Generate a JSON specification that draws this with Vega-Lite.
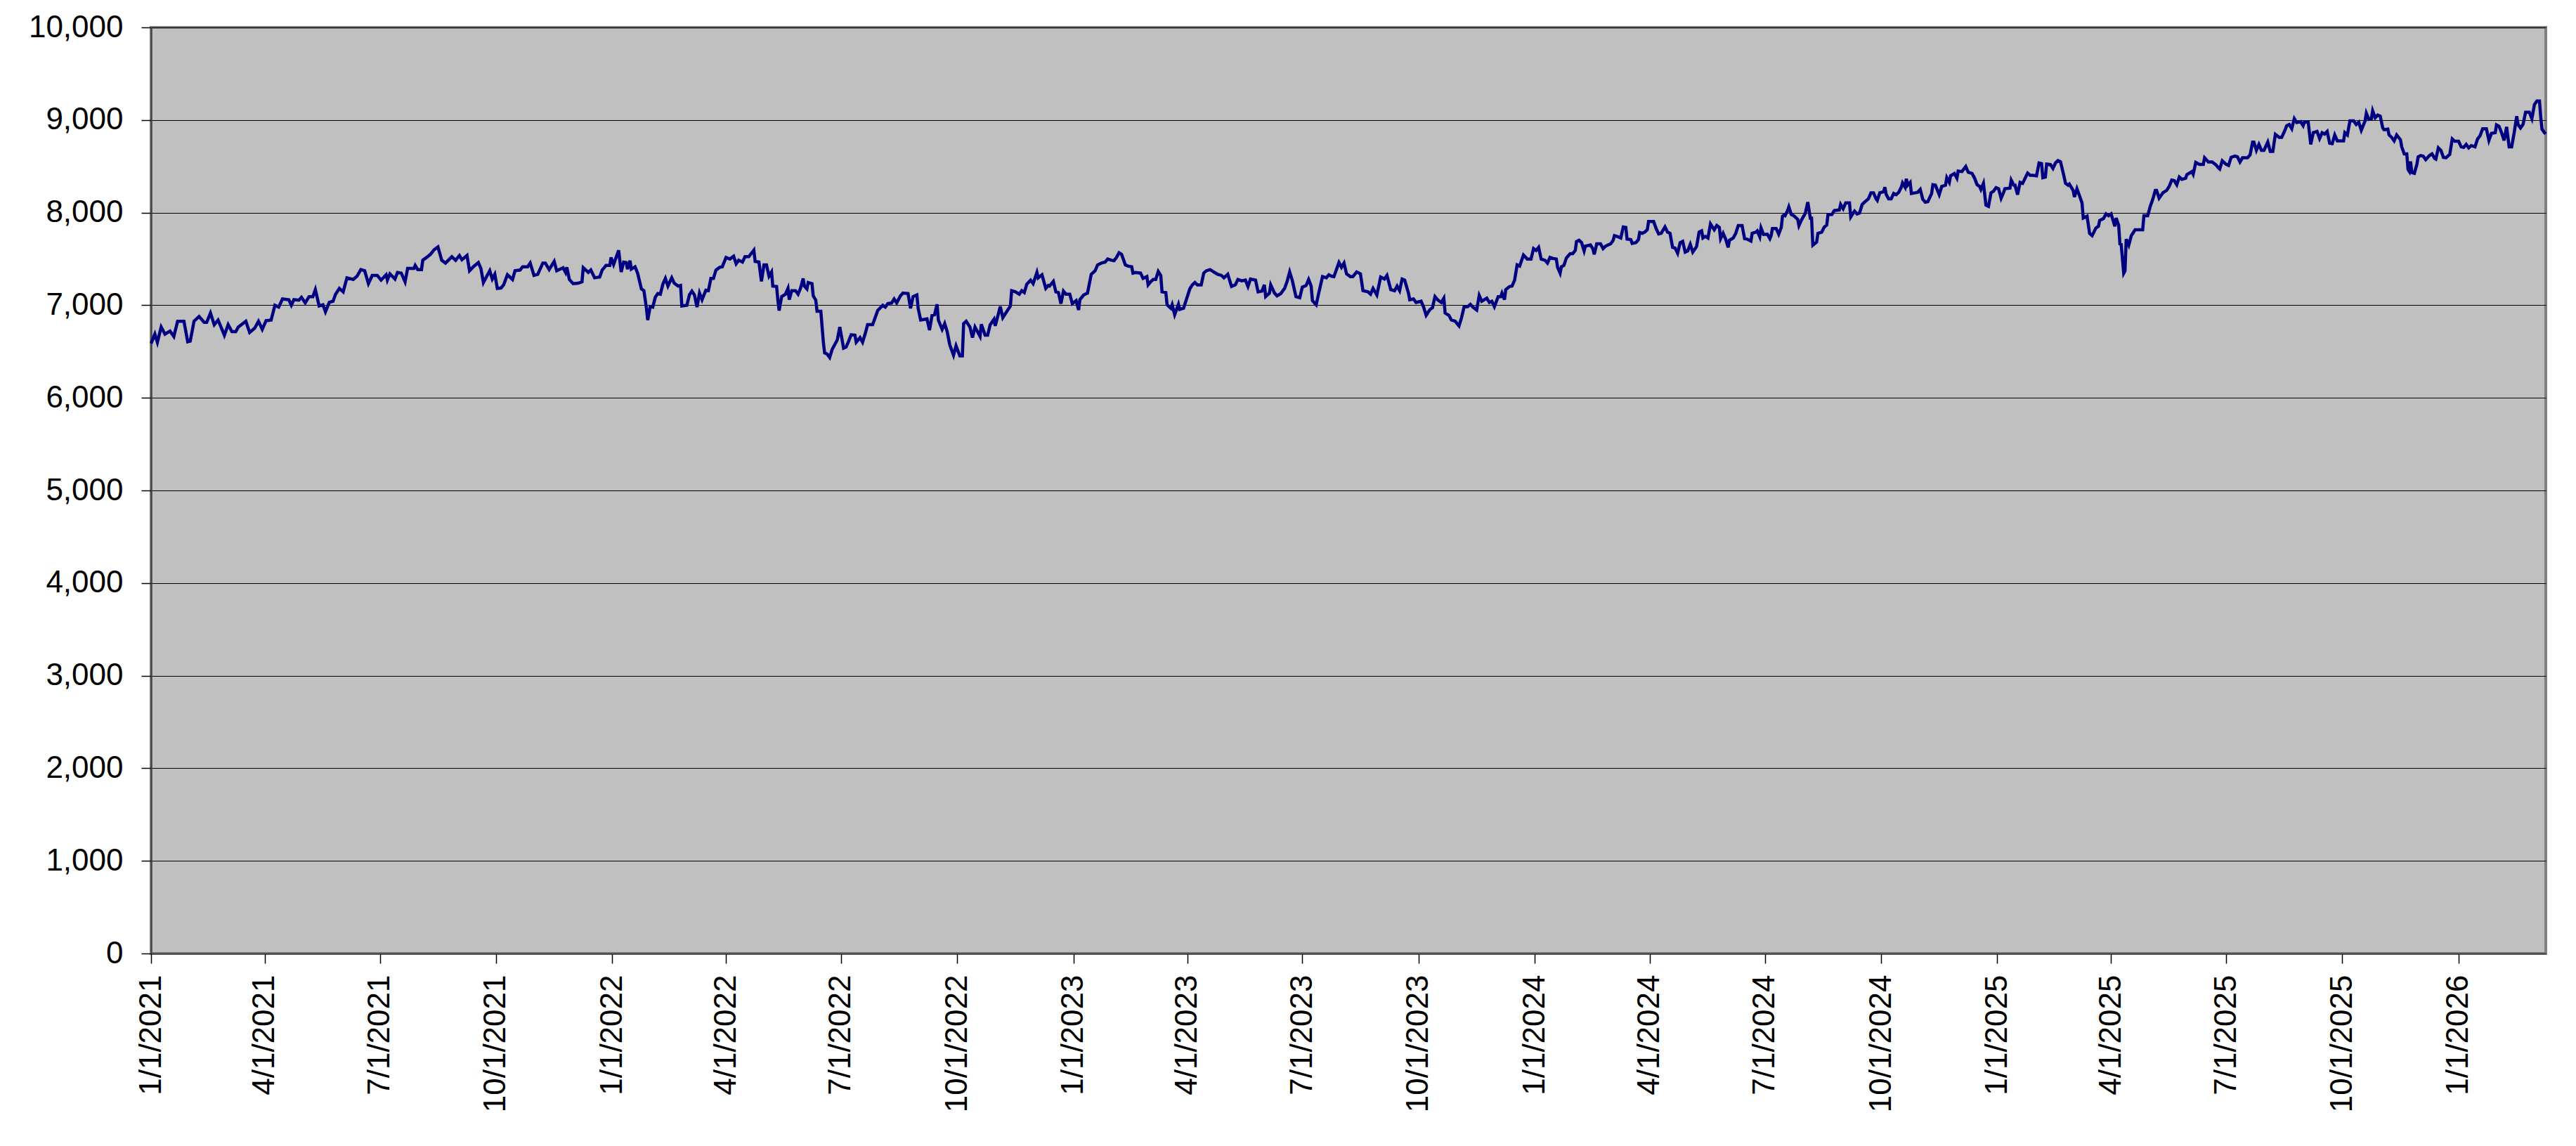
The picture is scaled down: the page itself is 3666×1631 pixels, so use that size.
{
  "$schema": "https://vega.github.io/schema/vega-lite/v6.json",
  "description": "Daily index level, 1/1/2021 to early March 2026",
  "width": 3408,
  "height": 1318,
  "autosize": {"type": "none"},
  "padding": {"left": 215, "top": 39, "right": 43, "bottom": 274},
  "background": "white",
  "config": {
    "font": "Liberation Sans",
    "view": {"fill": "#C0C0C0", "stroke": "#808080", "strokeWidth": 4}
  },
  "data": {
    "values": [
      {"day":0,"value":6587},{"day":3,"value":6688},{"day":5,"value":6600},{"day":8,"value":6764},{"day":11,"value":6688},{"day":15,"value":6721},{"day":18,"value":6663},{"day":21,"value":6827},{"day":26,"value":6827},{"day":29,"value":6605},{"day":31,"value":6612},{"day":34,"value":6827},{"day":38,"value":6878},{"day":42,"value":6815},{"day":44,"value":6815},{"day":47,"value":6916},{"day":50,"value":6790},{"day":53,"value":6840},{"day":55,"value":6777},{"day":58,"value":6676},{"day":61,"value":6790},{"day":64,"value":6714},{"day":67,"value":6714},{"day":69,"value":6764},{"day":75,"value":6827},{"day":78,"value":6706},{"day":82,"value":6752},{"day":85,"value":6827},{"day":88,"value":6739},{"day":91,"value":6833},{"day":95,"value":6840},{"day":98,"value":7000},{"day":101,"value":6980},{"day":104,"value":7068},{"day":109,"value":7060},{"day":111,"value":7000},{"day":113,"value":7060},{"day":117,"value":7055},{"day":119,"value":7086},{"day":122,"value":7025},{"day":125,"value":7093},{"day":128,"value":7093},{"day":130,"value":7169},{"day":133,"value":6992},{"day":136,"value":7005},{"day":138,"value":6929},{"day":141,"value":7030},{"day":144,"value":7043},{"day":146,"value":7119},{"day":149,"value":7182},{"day":152,"value":7144},{"day":155,"value":7296},{"day":160,"value":7278},{"day":163,"value":7314},{"day":166,"value":7385},{"day":169,"value":7372},{"day":172,"value":7233},{"day":175,"value":7322},{"day":179,"value":7322},{"day":182,"value":7271},{"day":186,"value":7329},{"day":187,"value":7271},{"day":189,"value":7339},{"day":193,"value":7283},{"day":195,"value":7354},{"day":198,"value":7347},{"day":201,"value":7253},{"day":203,"value":7397},{"day":208,"value":7397},{"day":209,"value":7430},{"day":211,"value":7385},{"day":214,"value":7385},{"day":215,"value":7486},{"day":218,"value":7516},{"day":221,"value":7549},{"day":224,"value":7600},{"day":227,"value":7630},{"day":230,"value":7486},{"day":233,"value":7455},{"day":238,"value":7524},{"day":241,"value":7486},{"day":244,"value":7537},{"day":246,"value":7491},{"day":250,"value":7537},{"day":252,"value":7372},{"day":255,"value":7415},{"day":259,"value":7461},{"day":261,"value":7397},{"day":263,"value":7245},{"day":266,"value":7322},{"day":268,"value":7372},{"day":270,"value":7283},{"day":272,"value":7334},{"day":274,"value":7182},{"day":277,"value":7187},{"day":279,"value":7220},{"day":282,"value":7329},{"day":286,"value":7278},{"day":288,"value":7372},{"day":292,"value":7380},{"day":294,"value":7415},{"day":298,"value":7415},{"day":300,"value":7455},{"day":303,"value":7322},{"day":306,"value":7334},{"day":310,"value":7455},{"day":312,"value":7455},{"day":315,"value":7385},{"day":319,"value":7473},{"day":321,"value":7372},{"day":325,"value":7397},
      {"day":326,"value":7405},{"day":328,"value":7354},{"day":329,"value":7410},{"day":331,"value":7278},{"day":334,"value":7233},{"day":338,"value":7238},{"day":341,"value":7253},{"day":342,"value":7405},{"day":346,"value":7354},{"day":348,"value":7380},{"day":351,"value":7296},{"day":355,"value":7304},{"day":357,"value":7380},{"day":360,"value":7430},{"day":363,"value":7430},{"day":364,"value":7516},{"day":366,"value":7440},{"day":370,"value":7592},{"day":372,"value":7359},{"day":374,"value":7466},{"day":376,"value":7461},{"day":377,"value":7390},{"day":379,"value":7481},{"day":380,"value":7390},{"day":383,"value":7415},{"day":385,"value":7347},{"day":388,"value":7177},{"day":390,"value":7157},{"day":392,"value":6967},{"day":393,"value":6840},{"day":395,"value":6985},{"day":397,"value":6980},{"day":399,"value":7086},{"day":401,"value":7126},{"day":403,"value":7119},{"day":405,"value":7228},{"day":407,"value":7289},{"day":409,"value":7207},{"day":412,"value":7296},{"day":414,"value":7238},{"day":417,"value":7207},{"day":419,"value":7213},{"day":420,"value":6992},{"day":424,"value":7000},{"day":426,"value":7111},{"day":428,"value":7152},{"day":430,"value":7111},{"day":432,"value":6980},{"day":434,"value":7131},{"day":436,"value":7060},{"day":439,"value":7162},{"day":441,"value":7157},{"day":443,"value":7289},{"day":445,"value":7289},{"day":447,"value":7380},{"day":450,"value":7410},{"day":452,"value":7415},{"day":455,"value":7516},{"day":458,"value":7499},{"day":461,"value":7529},{"day":463,"value":7448},{"day":465,"value":7486},{"day":468,"value":7466},{"day":470,"value":7524},{"day":473,"value":7524},{"day":477,"value":7595},{"day":478,"value":7473},{"day":481,"value":7466},{"day":483,"value":7258},{"day":485,"value":7435},{"day":487,"value":7435},{"day":489,"value":7314},{"day":491,"value":7359},{"day":492,"value":7207},{"day":495,"value":7202},{"day":496,"value":7055},{"day":497,"value":6942},{"day":499,"value":7093},{"day":502,"value":7119},{"day":504,"value":7182},{"day":505,"value":7060},{"day":507,"value":7157},{"day":510,"value":7157},{"day":512,"value":7119},{"day":514,"value":7187},{"day":516,"value":7289},{"day":517,"value":7207},{"day":519,"value":7177},{"day":520,"value":7245},{"day":523,"value":7233},{"day":524,"value":7101},{"day":526,"value":7055},{"day":527,"value":6934},{"day":530,"value":6934},{"day":532,"value":6600},{"day":533,"value":6486},{"day":535,"value":6473},{"day":537,"value":6435},{"day":539,"value":6524},{"day":541,"value":6574},{"day":543,"value":6625},{"day":545,"value":6764},{"day":548,"value":6537},{"day":550,"value":6549},{"day":552,"value":6612},{"day":554,"value":6681},{"day":557,"value":6676},{"day":558,"value":6600},{"day":561,"value":6650},{"day":563,"value":6600},{"day":565,"value":6688},{"day":567,"value":6790},{"day":571,"value":6790},{"day":575,"value":6942},{"day":579,"value":7000},{"day":581,"value":6980},{"day":583,"value":7017},{"day":586,"value":7025},{"day":588,"value":7068},{"day":590,"value":7025},{"day":593,"value":7101},{"day":595,"value":7131},{"day":599,"value":7126},{"day":601,"value":6967},{"day":603,"value":7093},{"day":606,"value":7111},{"day":607,"value":6967},{"day":609,"value":6840},{"day":612,"value":6848},{"day":614,"value":6853},{"day":616,"value":6731},{"day":618,"value":6891},{"day":620,"value":6898},{"day":622,"value":7010},{"day":623,"value":6840},{"day":626,"value":6739},{"day":628,"value":6802},{"day":630,"value":6714},{"day":632,"value":6574},{"day":635,"value":6461},{"day":637,"value":6562},{"day":640,"value":6453},{"day":642,"value":6453},{"day":643,"value":6802},{"day":645,"value":6827},{"day":648,"value":6764},
      {"day":650,"value":6650},{"day":652,"value":6764},{"day":656,"value":6663},{"day":657,"value":6795},{"day":660,"value":6676},{"day":662,"value":6676},{"day":664,"value":6790},{"day":667,"value":6848},{"day":668,"value":6777},{"day":672,"value":6985},{"day":674,"value":6866},{"day":677,"value":6929},{"day":680,"value":6992},{"day":681,"value":7157},{"day":684,"value":7144},{"day":687,"value":7119},{"day":689,"value":7157},{"day":691,"value":7137},{"day":693,"value":7228},{"day":696,"value":7271},{"day":698,"value":7233},{"day":701,"value":7354},{"day":702,"value":7296},{"day":705,"value":7329},{"day":708,"value":7182},{"day":710,"value":7213},{"day":711,"value":7207},{"day":714,"value":7258},{"day":716,"value":7144},{"day":718,"value":7137},{"day":720,"value":7017},{"day":722,"value":7152},{"day":724,"value":7119},{"day":727,"value":7119},{"day":729,"value":7017},{"day":732,"value":7050},{"day":734,"value":6949},{"day":735,"value":7060},{"day":738,"value":7111},{"day":741,"value":7131},{"day":744,"value":7334},{"day":747,"value":7372},{"day":749,"value":7435},{"day":752,"value":7455},{"day":755,"value":7466},{"day":757,"value":7499},{"day":760,"value":7486},{"day":762,"value":7481},{"day":764,"value":7516},{"day":766,"value":7567},{"day":768,"value":7549},{"day":771,"value":7435},{"day":773,"value":7423},{"day":776,"value":7415},{"day":777,"value":7347},{"day":779,"value":7354},{"day":783,"value":7347},{"day":785,"value":7289},{"day":788,"value":7309},{"day":789,"value":7220},{"day":791,"value":7253},{"day":793,"value":7278},{"day":795,"value":7278},{"day":797,"value":7365},{"day":799,"value":7322},{"day":800,"value":7144},{"day":803,"value":7137},{"day":804,"value":7005},{"day":807,"value":6967},{"day":808,"value":7005},{"day":810,"value":6898},{"day":813,"value":7010},{"day":814,"value":6954},{"day":817,"value":6967},{"day":819,"value":7050},{"day":822,"value":7177},{"day":824,"value":7220},{"day":826,"value":7245},{"day":828,"value":7220},{"day":831,"value":7220},{"day":833,"value":7347},{"day":835,"value":7372},{"day":838,"value":7385},{"day":841,"value":7359},{"day":844,"value":7334},{"day":847,"value":7322},{"day":849,"value":7296},{"day":852,"value":7334},{"day":855,"value":7202},{"day":858,"value":7220},{"day":860,"value":7278},{"day":863,"value":7263},{"day":866,"value":7271},{"day":868,"value":7202},{"day":870,"value":7283},{"day":874,"value":7271},{"day":876,"value":7144},{"day":879,"value":7152},{"day":881,"value":7220},{"day":882,"value":7093},{"day":885,"value":7131},{"day":886,"value":7220},{"day":889,"value":7131},{"day":891,"value":7101},{"day":894,"value":7126},{"day":897,"value":7182},{"day":899,"value":7258},{"day":901,"value":7359},{"day":903,"value":7271},{"day":906,"value":7093},{"day":909,"value":7081},{"day":911,"value":7195},{"day":914,"value":7213},{"day":916,"value":7278},{"day":918,"value":7207},{"day":919,"value":7050},{"day":922,"value":7005},{"day":924,"value":7131},{"day":927,"value":7309},{"day":930,"value":7296},{"day":932,"value":7329},{"day":934,"value":7314},{"day":936,"value":7309},{"day":940,"value":7461},{"day":942,"value":7410},{"day":944,"value":7455},{"day":946,"value":7339},{"day":949,"value":7309},{"day":951,"value":7309},{"day":954,"value":7359},{"day":957,"value":7339},{"day":959,"value":7157},{"day":963,"value":7144},{"day":965,"value":7119},{"day":967,"value":7182},{"day":970,"value":7111},
      {"day":973,"value":7304},{"day":976,"value":7283},{"day":978,"value":7322},{"day":981,"value":7169},{"day":984,"value":7157},{"day":986,"value":7207},{"day":988,"value":7157},{"day":990,"value":7283},{"day":992,"value":7271},{"day":995,"value":7131},{"day":996,"value":7060},{"day":999,"value":7068},{"day":1001,"value":7030},{"day":1005,"value":7043},{"day":1007,"value":6980},{"day":1009,"value":6891},{"day":1012,"value":6954},{"day":1014,"value":6974},{"day":1016,"value":7093},{"day":1018,"value":7060},{"day":1021,"value":7030},{"day":1023,"value":7076},{"day":1024,"value":6916},{"day":1027,"value":6891},{"day":1029,"value":6840},{"day":1032,"value":6827},{"day":1035,"value":6777},{"day":1037,"value":6866},{"day":1039,"value":6980},{"day":1042,"value":6985},{"day":1044,"value":7010},{"day":1046,"value":6980},{"day":1049,"value":6949},{"day":1051,"value":7106},{"day":1053,"value":7043},{"day":1057,"value":7076},{"day":1059,"value":7030},{"day":1061,"value":7043},{"day":1063,"value":6985},{"day":1066,"value":7093},{"day":1068,"value":7093},{"day":1069,"value":7131},{"day":1071,"value":7060},{"day":1072,"value":7169},{"day":1075,"value":7202},{"day":1077,"value":7207},{"day":1079,"value":7271},{"day":1081,"value":7435},{"day":1083,"value":7423},{"day":1086,"value":7542},{"day":1089,"value":7499},{"day":1092,"value":7499},{"day":1094,"value":7612},{"day":1096,"value":7592},{"day":1098,"value":7625},{"day":1100,"value":7499},{"day":1103,"value":7486},{"day":1105,"value":7455},{"day":1107,"value":7516},{"day":1109,"value":7506},{"day":1112,"value":7499},{"day":1113,"value":7410},{"day":1115,"value":7347},{"day":1116,"value":7415},{"day":1118,"value":7430},{"day":1120,"value":7511},{"day":1123,"value":7557},{"day":1125,"value":7557},{"day":1127,"value":7592},{"day":1128,"value":7688},{"day":1130,"value":7701},{"day":1132,"value":7676},{"day":1134,"value":7587},{"day":1135,"value":7638},{"day":1139,"value":7651},{"day":1141,"value":7607},{"day":1142,"value":7549},{"day":1144,"value":7663},{"day":1147,"value":7663},{"day":1149,"value":7612},{"day":1151,"value":7638},{"day":1155,"value":7663},{"day":1157,"value":7701},{"day":1158,"value":7752},{"day":1161,"value":7739},{"day":1163,"value":7726},{"day":1165,"value":7845},{"day":1167,"value":7840},{"day":1168,"value":7714},{"day":1171,"value":7709},{"day":1172,"value":7668},{"day":1175,"value":7676},{"day":1177,"value":7709},{"day":1178,"value":7785},{"day":1180,"value":7777},{"day":1182,"value":7790},{"day":1184,"value":7815},{"day":1185,"value":7904},{"day":1189,"value":7904},{"day":1191,"value":7828},{"day":1193,"value":7770},{"day":1195,"value":7777},{"day":1198,"value":7845},{"day":1200,"value":7790},{"day":1202,"value":7777},{"day":1204,"value":7625},{"day":1206,"value":7617},{"day":1208,"value":7562},{"day":1210,"value":7676},{"day":1212,"value":7689},{"day":1214,"value":7574},{"day":1216,"value":7587},{"day":1218,"value":7658},{"day":1220,"value":7574},{"day":1223,"value":7633},{"day":1225,"value":7790},{"day":1227,"value":7803},{"day":1228,"value":7726},{"day":1230,"value":7744},{"day":1232,"value":7726},{"day":1234,"value":7878},{"day":1237,"value":7815},{"day":1239,"value":7861},{"day":1241,"value":7840},{"day":1242,"value":7719},{"day":1244,"value":7777},{"day":1246,"value":7714},{"day":1248,"value":7625},{"day":1249,"value":7701},{"day":1252,"value":7726},{"day":1254,"value":7777},{"day":1256,"value":7861},{"day":1259,"value":7861},{"day":1261,"value":7719},{"day":1263,"value":7714},{"day":1266,"value":7693},{"day":1267,"value":7777},{"day":1270,"value":7790},{"day":1271,"value":7803},{"day":1273,"value":7739},{"day":1274,"value":7835},{"day":1276,"value":7764},{"day":1279,"value":7767},{"day":1281,"value":7719},{"day":1282,"value":7752},{"day":1283,"value":7828},{"day":1286,"value":7828},{"day":1288,"value":7767},{"day":1290,"value":7840},{"day":1291,"value":7962},{"day":1292,"value":7972},
      {"day":1293,"value":7966},{"day":1295,"value":8022},{"day":1296,"value":8062},{"day":1298,"value":7979},{"day":1300,"value":7966},{"day":1303,"value":7928},{"day":1304,"value":7860},{"day":1306,"value":7921},{"day":1309,"value":7991},{"day":1311,"value":8113},{"day":1313,"value":7941},{"day":1314,"value":7941},{"day":1315,"value":7649},{"day":1318,"value":7682},{"day":1319,"value":7776},{"day":1322,"value":7789},{"day":1324,"value":7844},{"day":1326,"value":7865},{"day":1327,"value":7979},{"day":1330,"value":7979},{"day":1332,"value":8022},{"day":1336,"value":8030},{"day":1337,"value":8088},{"day":1339,"value":8042},{"day":1341,"value":8106},{"day":1344,"value":8106},{"day":1345,"value":7953},{"day":1348,"value":8017},{"day":1350,"value":7986},{"day":1352,"value":7997},{"day":1354,"value":8088},{"day":1356,"value":8113},{"day":1359,"value":8149},{"day":1361,"value":8214},{"day":1363,"value":8214},{"day":1365,"value":8149},{"day":1366,"value":8131},{"day":1368,"value":8214},{"day":1371,"value":8225},{"day":1372,"value":8275},{"day":1373,"value":8199},{"day":1375,"value":8149},{"day":1377,"value":8149},{"day":1379,"value":8207},{"day":1381,"value":8194},{"day":1383,"value":8220},{"day":1385,"value":8275},{"day":1386,"value":8321},{"day":1388,"value":8275},{"day":1389,"value":8366},{"day":1390,"value":8296},{"day":1392,"value":8326},{"day":1393,"value":8207},{"day":1396,"value":8214},{"day":1398,"value":8220},{"day":1400,"value":8250},{"day":1402,"value":8144},{"day":1404,"value":8113},{"day":1406,"value":8118},{"day":1409,"value":8207},{"day":1410,"value":8301},{"day":1412,"value":8296},{"day":1415,"value":8194},{"day":1417,"value":8283},{"day":1420,"value":8296},{"day":1421,"value":8377},{"day":1423,"value":8326},{"day":1424,"value":8397},{"day":1427,"value":8422},{"day":1429,"value":8372},{"day":1430,"value":8448},{"day":1433,"value":8443},{"day":1436,"value":8498},{"day":1438,"value":8435},{"day":1441,"value":8422},{"day":1443,"value":8372},{"day":1445,"value":8301},{"day":1447,"value":8283},{"day":1448,"value":8250},{"day":1450,"value":8316},{"day":1452,"value":8080},{"day":1454,"value":8067},{"day":1456,"value":8214},{"day":1458,"value":8232},{"day":1460,"value":8270},{"day":1462,"value":8258},{"day":1464,"value":8156},{"day":1466,"value":8220},{"day":1467,"value":8258},{"day":1471,"value":8265},{"day":1472,"value":8351},{"day":1474,"value":8296},{"day":1475,"value":8296},{"day":1477,"value":8194},{"day":1479,"value":8326},{"day":1481,"value":8316},{"day":1483,"value":8372},{"day":1485,"value":8427},{"day":1487,"value":8402},{"day":1489,"value":8402},{"day":1492,"value":8397},{"day":1494,"value":8536},{"day":1496,"value":8529},{"day":1497,"value":8377},{"day":1499,"value":8384},{"day":1500,"value":8524},{"day":1503,"value":8519},{"day":1505,"value":8478},{"day":1507,"value":8536},{"day":1509,"value":8562},{"day":1511,"value":8549},{"day":1513,"value":8435},{"day":1515,"value":8316},{"day":1517,"value":8296},{"day":1518,"value":8308},{"day":1521,"value":8240},{"day":1522,"value":8169},{"day":1524,"value":8258},{"day":1526,"value":8182},{"day":1528,"value":8106},{"day":1529,"value":7941},{"day":1532,"value":7961},{"day":1534,"value":7776},{"day":1536,"value":7751},{"day":1539,"value":7834},{"day":1541,"value":7852},{"day":1542,"value":7915},{"day":1545,"value":7936},{"day":1547,"value":7986},{"day":1549,"value":7966},{"day":1551,"value":7986},{"day":1554,"value":7852},{"day":1555,"value":7941},{"day":1557,"value":7865},{"day":1558,"value":7662},{"day":1559,"value":7657},{"day":1561,"value":7345},{"day":1562,"value":7370},{"day":1563,"value":7713},{"day":1565,"value":7649},{"day":1567,"value":7751},{"day":1570,"value":7814},{"day":1573,"value":7814},{"day":1576,"value":7814},{"day":1577,"value":7966},{"day":1580,"value":7966},{"day":1582,"value":8067},{"day":1584,"value":8144},{"day":1586,"value":8240},{"day":1587,"value":8240},{"day":1589,"value":8156},{"day":1592,"value":8214},{"day":1595,"value":8240},{"day":1597,"value":8283},{"day":1599,"value":8351},{"day":1601,"value":8346},{"day":1603,"value":8301},{"day":1605,"value":8384},{"day":1607,"value":8359},{"day":1610,"value":8372},{"day":1611,"value":8410},{"day":1615,"value":8443},
      {"day":1616,"value":8415},{"day":1618,"value":8542},{"day":1621,"value":8521},{"day":1624,"value":8521},{"day":1625,"value":8592},{"day":1628,"value":8547},{"day":1631,"value":8547},{"day":1634,"value":8516},{"day":1636,"value":8483},{"day":1637,"value":8471},{"day":1639,"value":8559},{"day":1642,"value":8521},{"day":1644,"value":8509},{"day":1646,"value":8597},{"day":1649,"value":8610},{"day":1651,"value":8602},{"day":1653,"value":8547},{"day":1655,"value":8592},{"day":1657,"value":8592},{"day":1659,"value":8592},{"day":1661,"value":8623},{"day":1663,"value":8762},{"day":1664,"value":8762},{"day":1666,"value":8673},{"day":1668,"value":8737},{"day":1670,"value":8673},{"day":1672,"value":8673},{"day":1675,"value":8762},{"day":1677,"value":8661},{"day":1679,"value":8661},{"day":1681,"value":8846},{"day":1684,"value":8813},{"day":1686,"value":8813},{"day":1688,"value":8871},{"day":1690,"value":8939},{"day":1692,"value":8952},{"day":1694,"value":8906},{"day":1696,"value":9015},{"day":1698,"value":8972},{"day":1701,"value":8982},{"day":1703,"value":8939},{"day":1704,"value":8977},{"day":1707,"value":8977},{"day":1709,"value":8737},{"day":1711,"value":8863},{"day":1714,"value":8876},{"day":1716,"value":8800},{"day":1718,"value":8863},{"day":1720,"value":8848},{"day":1722,"value":8876},{"day":1724,"value":8749},{"day":1726,"value":8744},{"day":1728,"value":8838},{"day":1730,"value":8775},{"day":1732,"value":8775},{"day":1735,"value":8775},{"day":1736,"value":8863},{"day":1738,"value":8838},{"day":1740,"value":8990},{"day":1743,"value":8990},{"day":1745,"value":8952},{"day":1747,"value":8977},{"day":1749,"value":8889},{"day":1752,"value":8990},{"day":1753,"value":9073},{"day":1755,"value":9008},{"day":1757,"value":9015},{"day":1758,"value":9099},{"day":1760,"value":9023},{"day":1762,"value":9053},{"day":1764,"value":9041},{"day":1766,"value":8914},{"day":1767,"value":8896},{"day":1770,"value":8901},{"day":1771,"value":8838},{"day":1773,"value":8813},{"day":1775,"value":8775},{"day":1777,"value":8838},{"day":1780,"value":8787},{"day":1781,"value":8711},{"day":1783,"value":8635},{"day":1785,"value":8635},{"day":1786,"value":8466},{"day":1787,"value":8445},{"day":1788,"value":8552},{"day":1789,"value":8433},{"day":1791,"value":8425},{"day":1793,"value":8521},{"day":1794,"value":8602},{"day":1796,"value":8617},{"day":1798,"value":8610},{"day":1800,"value":8572},{"day":1803,"value":8617},{"day":1805,"value":8635},{"day":1807,"value":8585},{"day":1808,"value":8577},{"day":1810,"value":8699},{"day":1812,"value":8673},{"day":1814,"value":8597},{"day":1816,"value":8592},{"day":1818,"value":8617},{"day":1819,"value":8628},{"day":1821,"value":8795},{"day":1823,"value":8770},{"day":1826,"value":8770},{"day":1828,"value":8711},{"day":1830,"value":8704},{"day":1832,"value":8737},{"day":1834,"value":8699},{"day":1836,"value":8724},{"day":1839,"value":8711},{"day":1841,"value":8795},{"day":1843,"value":8830},{"day":1845,"value":8906},{"day":1848,"value":8906},{"day":1850,"value":8780},{"day":1852,"value":8856},{"day":1855,"value":8863},{"day":1856,"value":8947},{"day":1858,"value":8932},{"day":1860,"value":8863},{"day":1862,"value":8780},{"day":1864,"value":8926},{"day":1866,"value":8711},{"day":1868,"value":8711},{"day":1870,"value":8863},{"day":1872,"value":9041},{"day":1873,"value":8952},{"day":1875,"value":8914},{"day":1877,"value":8952},{"day":1879,"value":9084},{"day":1882,"value":9084},{"day":1884,"value":9015},{"day":1886,"value":9167},{"day":1888,"value":9205},{"day":1890,"value":9205},{"day":1891,"value":9033},{"day":1892,"value":8901},{"day":1894,"value":8863},{"day":1895,"value":8851}
    ]
  },
  "mark": {"type": "line", "color": "#000080", "strokeWidth": 4.5},
  "encoding": {
    "x": {
      "field": "day",
      "type": "quantitative",
      "scale": {"domain": [0, 1895], "nice": false, "zero": false},
      "axis": {
        "title": null,
        "grid": false,
        "values": [0, 90, 181, 273, 365, 455, 546, 638, 730, 820, 911, 1003, 1095, 1186, 1277, 1369, 1461, 1551, 1642, 1734, 1826],
        "labelExpr": "['1/1/2021','4/1/2021','7/1/2021','10/1/2021','1/1/2022','4/1/2022','7/1/2022','10/1/2022','1/1/2023','4/1/2023','7/1/2023','10/1/2023','1/1/2024','4/1/2024','7/1/2024','10/1/2024','1/1/2025','4/1/2025','7/1/2025','10/1/2025','1/1/2026'][indexof([0,90,181,273,365,455,546,638,730,820,911,1003,1095,1186,1277,1369,1461,1551,1642,1734,1826], datum.value)]",
        "labelAngle": -90,
        "labelFont": "Liberation Sans",
        "labelFontSize": 44,
        "labelColor": "#000000",
        "labelPadding": 16,
        "labelLimit": 0,
        "labelOverlap": false,
        "labelFlush": false,
        "labelBound": false,
        "tickSize": 14,
        "tickWidth": 1.5,
        "tickColor": "#000000",
        "domainColor": "#404040",
        "domainWidth": 2
      }
    },
    "y": {
      "field": "value",
      "type": "quantitative",
      "scale": {"domain": [0, 10000], "nice": false},
      "axis": {
        "title": null,
        "values": [0, 1000, 2000, 3000, 4000, 5000, 6000, 7000, 8000, 9000, 10000],
        "format": ",d",
        "grid": true,
        "gridColor": "#000000",
        "gridWidth": 1.2,
        "labelFont": "Liberation Sans",
        "labelFontSize": 44,
        "labelColor": "#000000",
        "labelPadding": 26,
        "labelLimit": 0,
        "labelOverlap": false,
        "labelFlush": false,
        "labelBound": false,
        "tickSize": 14,
        "tickWidth": 1.5,
        "tickColor": "#000000",
        "domainColor": "#404040",
        "domainWidth": 2
      }
    }
  }
}
